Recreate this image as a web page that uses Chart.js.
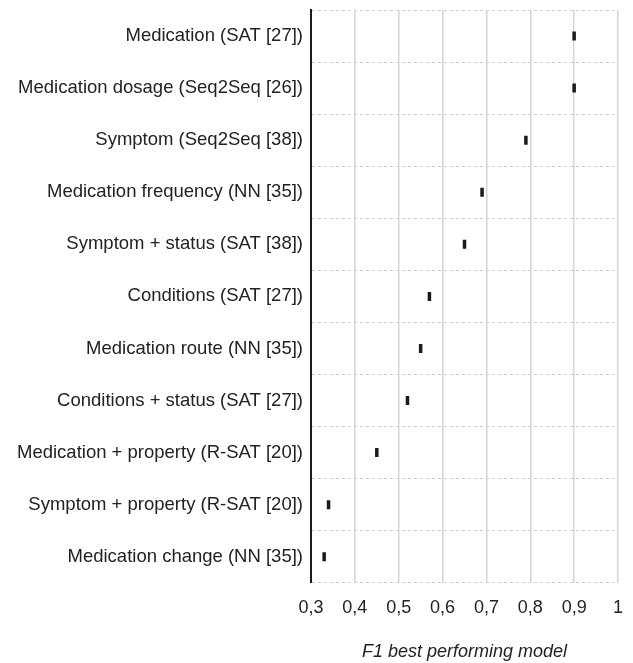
<!DOCTYPE html>
<html>
<head>
<meta charset="utf-8">
<script src="https://cdn.jsdelivr.net/npm/chart.js@4"></script>
<style>
  html, body { margin: 0; padding: 0; background: #fff; }
  #wrap { width: 633px; height: 663px; }
</style>
</head>
<body>
<div id="wrap"><canvas id="chart" width="633" height="663"></canvas></div>
<script>
// task categories (best model in brackets)
const categories = [
  'Medication (SAT [27])',
  'Medication dosage (Seq2Seq [26])',
  'Symptom (Seq2Seq [38])',
  'Medication frequency (NN [35])',
  'Symptom + status (SAT [38])',
  'Conditions (SAT [27])',
  'Medication route (NN [35])',
  'Conditions + status (SAT [27])',
  'Medication + property (R-SAT [20])',
  'Symptom + property (R-SAT [20])',
  'Medication change (NN [35])'
];
// F1 of best performing model
const f1Scores = [0.90, 0.90, 0.79, 0.69, 0.65, 0.57, 0.55, 0.52, 0.45, 0.34, 0.33];
const xMin = 0.3, xMax = 1.0, xStep = 0.1;
const xTitle = 'F1 best performing model';

const FONT = "'Liberation Sans', Arial, Helvetica, sans-serif";

new Chart(document.getElementById('chart').getContext('2d'), {
  type: 'line',
  data: {
    labels: categories,
    datasets: [{
      data: f1Scores,
      showLine: false,
      pointStyle: 'line',
      rotation: 90,
      radius: 4.5,
      hoverRadius: 4.5,
      borderWidth: 3.5,
      borderColor: '#1a1a1a',
      backgroundColor: '#1a1a1a'
    }]
  },
  options: {
    indexAxis: 'y',
    responsive: false,
    animation: false,
    layout: { padding: { top: 10, right: 0, left: 9, bottom: 0 } },
    plugins: { legend: { display: false }, tooltip: { enabled: false } },
    scales: {
      x: {
        type: 'linear',
        min: xMin,
        max: xMax,
        afterFit: s => { s.paddingRight = 15; },
        ticks: {
          stepSize: xStep,
          color: '#222',
          padding: 14,
          font: { family: FONT, size: 18 },
          callback: v => (+v.toFixed(1)).toString().replace('.', ',')
        },
        grid: { color: '#d4d4d4', lineWidth: 1.5, drawTicks: false },
        border: { display: false },
        title: {
          display: true,
          text: xTitle,
          color: '#222',
          padding: { top: 9, bottom: 0 },
          font: { family: FONT, size: 18, style: 'italic' }
        }
      },
      y: {
        type: 'category',
        offset: true,
        ticks: {
          color: '#222',
          padding: 8,
          font: { family: FONT, size: 18.5, lineHeight: 0.1 }
        },
        grid: { offset: true, color: '#d0d0d0', lineWidth: 1, drawTicks: false },
        border: { display: true, color: '#1a1a1a', width: 2, dash: [3, 3] }
      }
    }
  }
});
</script>
</body>
</html>
